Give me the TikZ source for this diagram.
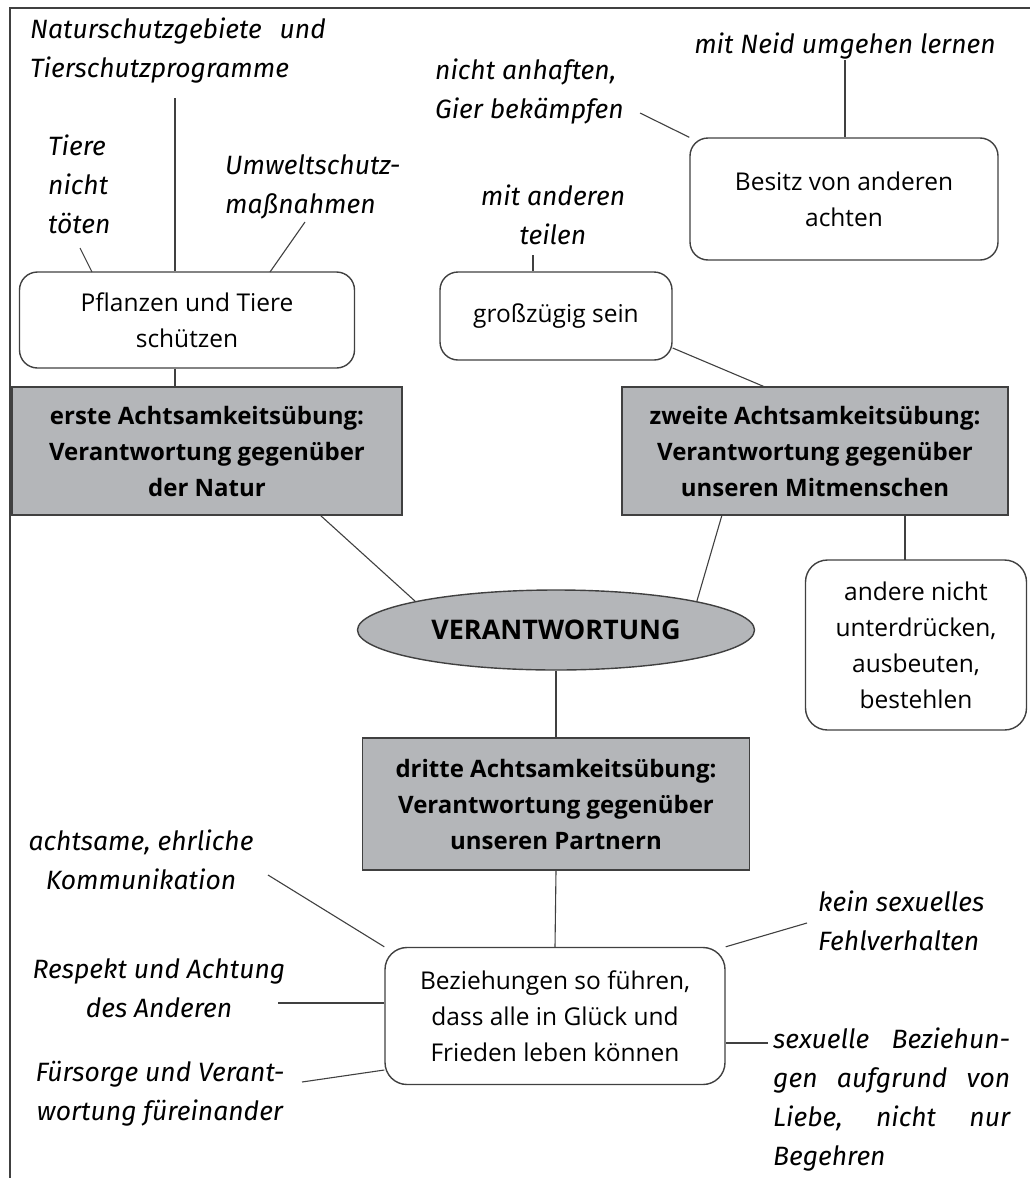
\documentclass[tikz,border=0pt]{standalone}
\usepackage{fontspec}
\setmainfont{Open Sans}
\newfontfamily\handfont{Fira Sans}
\usepackage{xcolor}
\usetikzlibrary{shapes.geometric, positioning, calc}

\definecolor{boxgray}{RGB}{180,182,185}
\definecolor{linegray}{RGB}{64,64,64}

\begin{document}
\begin{tikzpicture}[
    x=1pt, y=-1pt,
    every node/.style={color=black, inner sep=0pt},
    rbox/.style={draw=linegray, line width=1.4pt, rectangle, rounded corners=18pt,
                 align=center, font=\fontsize{24.5}{36}\selectfont},
    gbox/.style={draw=linegray, line width=1.4pt, rectangle, fill=boxgray,
                 align=center, font=\fontsize{24}{36}\selectfont\bfseries},
    hand/.style={font=\handfont\itshape\fontsize{26.5}{39}\selectfont},
    link/.style={draw=linegray, line width=1.1pt}
]
\useasboundingbox (0,0) rectangle (1030,1178);

% --- frame ---
\draw[linegray, line width=1.2pt] (10,1178) -- (10,8) -- (1030,8);

% --- central ellipse and the three exercises ---
\node[ellipse, draw=linegray, line width=1.4pt, fill=boxgray, minimum width=397pt,
      minimum height=80pt, font=\fontsize{27}{36}\selectfont\bfseries] (verant) at (556,630) {VERANTWORTUNG};
\node[gbox, minimum width=390pt, minimum height=128pt] (erste) at (207,451)
    {erste Achtsamkeitsübung:\\Verantwortung gegenüber\\der Natur};
\node[gbox, minimum width=386pt, minimum height=128pt] (zweite) at (815,451)
    {zweite Achtsamkeitsübung:\\Verantwortung gegenüber\\unseren Mitmenschen};
\node[gbox, minimum width=387pt, minimum height=132pt] (dritte) at (556,804)
    {dritte Achtsamkeitsübung:\\Verantwortung gegenüber\\unseren Partnern};

% --- rounded boxes ---
\node[rbox, minimum width=335pt, minimum height=96pt] (pflanzen) at (187,320)
    {Pflanzen und Tiere\\schützen};
\node[rbox, minimum width=232pt, minimum height=88pt] (gross) at (556,316) {großzügig sein};
\node[rbox, minimum width=308pt, minimum height=122pt] (besitz) at (844,199)
    {Besitz von anderen\\achten};
\node[rbox, minimum width=221pt, minimum height=170pt, rounded corners=22pt] (andere) at (916,645)
    {andere nicht\\unterdrücken,\\ausbeuten,\\bestehlen};
\node[rbox, minimum width=340pt, minimum height=137pt, rounded corners=22pt] (bezieh) at (555,1016)
    {Beziehungen so führen,\\dass alle in Glück und\\Frieden leben können};

% --- handwritten notes ---
\node[hand, anchor=north west, align=left] (natur) at (30,18)
    {Naturschutzgebiete\hspace{18pt}und\\Tierschutzprogramme};
\node[hand, anchor=north west, align=left] (tiere) at (48,135) {Tiere\\nicht\\töten};
\node[hand, anchor=north west, align=left] (umwelt) at (225,154) {Umweltschutz-\\maßnahmen};
\node[hand, anchor=north west, align=left] (anhaften) at (435,59) {nicht anhaften,\\Gier bekämpfen};
\node[hand, anchor=north] (neid) at (845,33) {mit Neid umgehen lernen};
\node[hand, anchor=north, align=center] (teilen) at (553,185) {mit anderen\\teilen};
\node[hand, anchor=north, align=center] (achtsam) at (141,830) {achtsame, ehrliche\\Kommunikation};
\node[hand, anchor=north, align=center] (respekt) at (159,958) {Respekt und Achtung\\des Anderen};
\node[hand, anchor=north, align=center] (fuersorge) at (160,1061) {Fürsorge und Verant-\\wortung füreinander};
\node[hand, anchor=north west, align=left] (kein) at (818,891) {kein sexuelles\\Fehlverhalten};
\node[hand, anchor=north west, align=left, text width=237pt] (sexuell) at (773,1028)
    {sexuelle\hfill Beziehun-\\gen\hfill aufgrund\hfill von\\Liebe,\hfill nicht\hfill nur\\Begehren};

% --- free ends of the connectors ---
\coordinate (naturEnd)    at (175,98);
\coordinate (tiereEnd)    at (80,248);
\coordinate (umweltEnd)   at (305,222);
\coordinate (anhaftenEnd) at (640,113);
\coordinate (neidEnd)     at (845,60);
\coordinate (teilenEnd)   at (533,255);
\coordinate (achtsamEnd)  at (268,875);
\coordinate (respektEnd)  at (278,1003);
\coordinate (fuerEnd)     at (302,1082);
\coordinate (keinEnd)     at (807,923);
\coordinate (sexEnd)      at (768,1043);

% --- connectors: notes to boxes ---
\draw[link] (naturEnd) -- (naturEnd |- pflanzen.north);
\draw[link] (tiereEnd) -- (92,272);
\draw[link] (umweltEnd) -- (270,272);
\draw[link] (anhaftenEnd) -- (besitz.north west);
\draw[link] (neidEnd) -- (neidEnd |- besitz.north);
\draw[link] (teilenEnd) -- (teilenEnd |- gross.north);
\draw[link] (achtsamEnd) -- (bezieh.north west);
\draw[link] (respektEnd) -- (respektEnd -| bezieh.west);
\draw[link] (fuerEnd) -- ([yshift=-54pt]bezieh.west);
\draw[link] (keinEnd) -- (bezieh.north east);
\draw[link] (sexEnd) -- (sexEnd -| bezieh.east);

% --- connectors: boxes to exercises ---
\draw[link] (naturEnd |- pflanzen.south) -- (naturEnd |- erste.north);
\draw[link] (gross.east) ++(0,32) -- (765,387);
\draw[link] (905,515) -- (905,560);

% --- connectors: exercises to the centre ---
\draw[link] (320,515) -- (verant.north west);
\draw[link] (722,515) -- (verant.north east);
\draw[link] (verant.south) -- (dritte.north);
\draw[link] (dritte.south) -- (bezieh.north);

\end{tikzpicture}
\end{document}
